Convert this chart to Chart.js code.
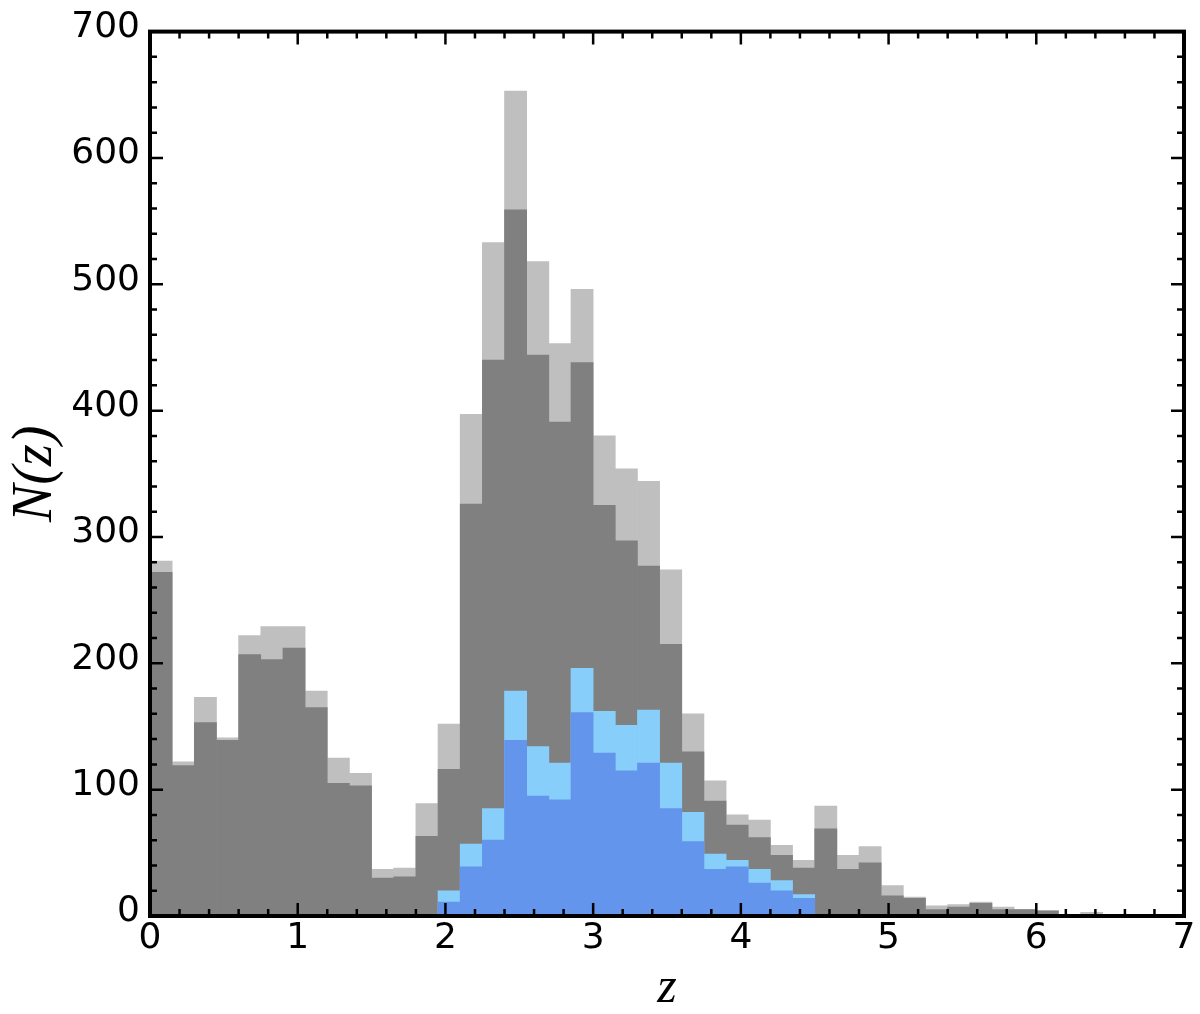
<!DOCTYPE html>
<html>
<head>
<meta charset="utf-8">
<script src="https://cdn.jsdelivr.net/npm/chart.js@4/dist/chart.umd.min.js"></script>
<style>
  html, body { margin: 0; padding: 0; background: #fff; }
  canvas { display: block; }
</style>
</head>
<body>
<canvas id="c" width="1200" height="1014"></canvas>
<script>
// Bin centres (redshift z), bins 0.15 wide
const zBinCenters = [0.075, 0.225, 0.375, 0.525, 0.675, 0.825, 0.975, 1.125, 1.275, 1.425,
  1.575, 1.725, 1.875, 2.025, 2.175, 2.325, 2.475, 2.625, 2.775, 2.925,
  3.075, 3.225, 3.375, 3.525, 3.675, 3.825, 3.975, 4.125, 4.275, 4.425,
  4.575, 4.725, 4.875, 5.025, 5.175, 5.325, 5.475, 5.625, 5.775, 5.925,
  6.075, 6.225, 6.375];

// Light grey (full sample)
const countsAll = [281, 122, 173, 141, 222, 229, 229, 178, 125, 113,
  37, 38, 89, 152, 397, 533, 653, 518, 453, 496,
  380, 354, 344, 274, 160, 107, 80, 76, 56, 44,
  87, 48, 55, 24, 15, 8, 9, 11, 7, 5,
  4, 0, 3];

// Dark grey
const countsSub = [272, 119, 153, 139, 207, 203, 212, 165, 105, 103,
  30, 31, 63, 116, 326, 440, 559, 444, 391, 438,
  325, 297, 277, 215, 130, 91, 72, 62, 48, 38,
  69, 37, 42, 16, 14, 5, 7, 10, 5, 5,
  4, 0, 0];

// Light blue
const countsBlueAll = [null, null, null, null, null, null, null, null, null, null,
  null, null, null, 20, 57, 85, 178, 134, 121, 196,
  162, 151, 163, 121, 82, 49, 44, 37, 28, 17,
  null, null, null, null, null, null, null, null, null, null,
  null, null, null];

// Blue
const countsBlueSub = [null, null, null, null, null, null, null, null, null, null,
  null, null, null, 11, 39, 60, 139, 95, 92, 161,
  129, 115, 121, 85, 59, 37, 39, 26, 20, 14,
  null, null, null, null, null, null, null, null, null, null,
  null, null, null];

const xMajorTicks = [0, 1, 2, 3, 4, 5, 6, 7];
const yMajorTicks = [0, 100, 200, 300, 400, 500, 600, 700];

const toPoints = arr => zBinCenters.map((x, i) => ({x: x, y: arr[i]}));

const frameTicks = {
  id: 'frameTicks',
  afterDatasetsDraw(chart) {
    const {ctx, chartArea: a, scales: {x, y}} = chart;
    ctx.save();
    ctx.strokeStyle = '#000';
    ctx.lineWidth = 2.5;
    ctx.lineCap = 'butt';
    ctx.beginPath();
    const xMax = xMajorTicks[xMajorTicks.length - 1];
    for (let k = 0; k <= Math.round(xMax / 0.2); k++) {
      const v = k * 0.2;
      const major = xMajorTicks.some(t => Math.abs(t - v) < 1e-6);
      const L = major ? 13 : 7;
      const px = x.getPixelForValue(v);
      ctx.moveTo(px, a.bottom); ctx.lineTo(px, a.bottom - L);
      ctx.moveTo(px, a.top); ctx.lineTo(px, a.top + L);
    }
    const yMax = yMajorTicks[yMajorTicks.length - 1];
    for (let v = 0; v <= yMax; v += 20) {
      const major = yMajorTicks.includes(v);
      const L = major ? 13 : 7;
      const py = y.getPixelForValue(v);
      ctx.moveTo(a.left, py); ctx.lineTo(a.left + L, py);
      ctx.moveTo(a.right, py); ctx.lineTo(a.right - L, py);
    }
    ctx.stroke();
    ctx.lineWidth = 4;
    ctx.strokeRect(a.left, a.top, a.right - a.left, a.bottom - a.top);
    ctx.restore();
  }
};

const barCommon = {grouped: false, barPercentage: 1, categoryPercentage: 1, borderWidth: 0};

new Chart(document.getElementById('c'), {
  type: 'bar',
  data: {
    datasets: [
      Object.assign({label: 'blue', data: toPoints(countsBlueSub), backgroundColor: '#6495ed', order: 1}, barCommon),
      Object.assign({label: 'lightblue', data: toPoints(countsBlueAll), backgroundColor: '#87cefa', order: 2}, barCommon),
      Object.assign({label: 'dark', data: toPoints(countsSub), backgroundColor: '#808080', order: 3}, barCommon),
      Object.assign({label: 'light', data: toPoints(countsAll), backgroundColor: '#bfbfbf', order: 4}, barCommon)
    ]
  },
  options: {
    responsive: false,
    animation: false,
    devicePixelRatio: 1,
    layout: {padding: {top: 28, right: 16, left: 0, bottom: 0}},
    plugins: {legend: {display: false}, tooltip: {enabled: false}},
    scales: {
      x: {
        type: 'linear',
        min: 0, max: 7,
        offset: false,
        grid: {display: false, drawTicks: false, offset: false},
        border: {display: false},
        ticks: {
          stepSize: 1,
          padding: 1,
          color: '#000',
          font: {family: 'DejaVu Sans', size: 36, lineHeight: 1.2},
          maxRotation: 0,
          callback: v => xMajorTicks.includes(v) ? String(v) : ''
        },
        title: {
          display: true,
          text: 'z',
          color: '#000',
          font: {family: 'Liberation Serif', style: 'italic', size: 50, lineHeight: 1},
          padding: {top: 0, bottom: 0}
        },
        afterFit: s => { s.height = 98; }
      },
      y: {
        min: 0, max: 700,
        grid: {display: false, drawTicks: false},
        border: {display: false},
        ticks: {
          stepSize: 100,
          padding: 10,
          labelOffset: -4,
          color: '#000',
          font: {family: 'DejaVu Sans', size: 36},
          callback: v => yMajorTicks.includes(v) ? String(v) : ''
        },
        title: {
          display: true,
          text: 'N(z)',
          color: '#000',
          font: {family: 'Liberation Serif', style: 'italic', size: 56, lineHeight: 1},
          padding: {top: 8, bottom: 0}
        },
        afterFit: s => { s.width = 150; }
      }
    }
  },
  plugins: [frameTicks]
});
</script>
</body>
</html>
